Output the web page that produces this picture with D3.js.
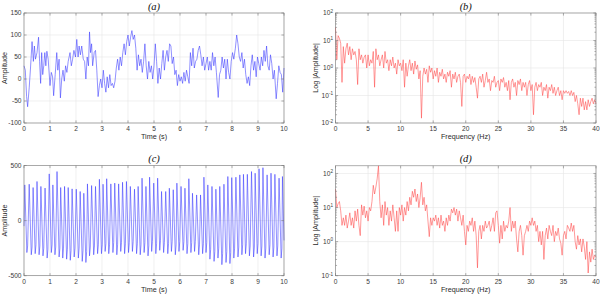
<!DOCTYPE html>
<html lang="en">
<head>
<meta charset="UTF-8" />
<title>Signals and spectra</title>
<script src="https://d3js.org/d3.v7.min.js"></script>
<style>
  body { margin: 0; background: #fff; }
  svg { display: block; font-family: "Liberation Sans", Arial, sans-serif; }
  .tick-label { font-size: 6.6px; fill: #3a3a3a; }
  .axis-label { font-size: 7.2px; fill: #2a2a2a; }
  .panel-title { font-family: "Liberation Serif", "Times New Roman", serif; font-style: italic; font-size: 10.5px; fill: #111; }
</style>
</head>
<body>
<script>
// ---- data ----

// (a) time signal: [time s, amplitude]
const signalA = [
  [0.00, 30], [0.05, 20], [0.10, -40], [0.14, -63], [0.20, -20], [0.25, 25], [0.31, 85], [0.36, 40], [0.40, 75], [0.44, 45],
  [0.50, 60], [0.56, 95], [0.60, 40], [0.64, -10], [0.68, 60], [0.72, 10], [0.76, 30], [0.80, 60], [0.84, 30], [0.88, 63],
  [0.93, 45], [1.00, -15], [1.05, 15], [1.10, 5], [1.14, -38], [1.20, 10], [1.26, 60], [1.30, 20], [1.35, 45], [1.40, -43],
  [1.45, 0], [1.50, 20], [1.55, -5], [1.60, 30], [1.65, 15], [1.70, 40], [1.77, 60], [1.82, 30], [1.87, 45], [1.92, 65],
  [1.98, 50], [2.03, 90], [2.08, 50], [2.12, 75], [2.17, 55], [2.22, 75], [2.28, 45], [2.33, 40], [2.38, 0], [2.43, 50],
  [2.48, 30], [2.52, 107], [2.56, 60], [2.60, 80], [2.64, 30], [2.70, 60], [2.75, 65], [2.80, 20], [2.85, -40], [2.90, -15],
  [2.95, 0], [3.00, -20], [3.05, 20], [3.10, -10], [3.15, -30], [3.20, 5], [3.25, -20], [3.30, 10], [3.35, -15], [3.40, -10],
  [3.45, -20], [3.50, -5], [3.55, 25], [3.60, 45], [3.65, 20], [3.70, 50], [3.75, 30], [3.80, 60], [3.85, 80], [3.90, 55],
  [3.95, 85], [4.00, 100], [4.05, 75], [4.10, 95], [4.15, 110], [4.20, 90], [4.25, 100], [4.30, 70], [4.35, 20], [4.40, 55],
  [4.45, 30], [4.50, 45], [4.55, 15], [4.60, 40], [4.65, 80], [4.70, 30], [4.75, 0], [4.80, 40], [4.85, 15], [4.90, 30],
  [4.95, 0], [5.00, 30], [5.05, 80], [5.10, 40], [5.15, -10], [5.20, 25], [5.25, 0], [5.30, 35], [5.35, 65], [5.40, 20],
  [5.45, 50], [5.50, 65], [5.55, 40], [5.60, 80], [5.65, 75], [5.70, 35], [5.75, 50], [5.80, 10], [5.85, 20], [5.90, -15],
  [5.95, 10], [6.00, -5], [6.05, 5], [6.10, -10], [6.15, 15], [6.20, -5], [6.25, 20], [6.30, 5], [6.35, -10], [6.40, 60],
  [6.45, 30], [6.50, 70], [6.55, 25], [6.60, 40], [6.65, 45], [6.70, 65], [6.75, 75], [6.80, 55], [6.85, 30], [6.90, 50],
  [6.95, 20], [7.00, 35], [7.05, 50], [7.10, 20], [7.15, 40], [7.20, 20], [7.25, 60], [7.30, 30], [7.35, 50], [7.40, 15],
  [7.47, -42], [7.52, 10], [7.57, 20], [7.62, 50], [7.67, 25], [7.72, 45], [7.77, 0], [7.82, 45], [7.87, 15], [7.92, 0],
  [7.97, 40], [8.02, 60], [8.07, 45], [8.13, 70], [8.18, 100], [8.23, 80], [8.28, 50], [8.33, 40], [8.38, 60], [8.43, 25],
  [8.48, 45], [8.53, 10], [8.58, -10], [8.63, 5], [8.68, -15], [8.73, 30], [8.78, 55], [8.83, 20], [8.88, 40], [8.93, 5],
  [8.98, 50], [9.03, 35], [9.08, 20], [9.13, 50], [9.18, 30], [9.23, 65], [9.28, 40], [9.33, 75], [9.38, 30], [9.43, 20],
  [9.48, 55], [9.53, 35], [9.58, 0], [9.63, 20], [9.70, -45], [9.75, -10], [9.80, 30], [9.85, 15], [9.90, 10], [9.95, -30],
  [10.00, 25]
];

// (b) spectrum of (a), one value every 0.2 Hz from 0 to 40 Hz
const freqStep = 0.2;
const spectrumB = [
  30, 2, 15, 12, 8, 0.3, 6, 1.5, 5, 8,
  3, 6, 2, 5, 3, 4, 2, 0.25, 5, 2,
  3, 1.5, 2.5, 3, 1, 3, 1.2, 2, 1.5, 4,
  0.2, 5, 2, 3, 1.2, 2, 3, 1, 4, 1.5,
  2, 0.8, 2, 1.2, 2.5, 1, 1.5, 0.6, 2, 1.2,
  1.5, 0.8, 2, 0.2, 1.5, 0.5, 1.2, 2, 0.8, 1.5,
  0.6, 1.8, 0.9, 1.3, 0.4, 0.8, 0.015, 0.5, 1, 0.6,
  0.9, 0.3, 1.2, 0.7, 1, 0.4, 0.8, 0.5, 1, 0.3,
  0.7, 0.5, 0.9, 0.4, 0.6, 0.3, 0.7, 0.5, 0.8, 0.2,
  0.6, 0.4, 0.7, 0.3, 0.5, 0.6, 0.3, 0.04, 0.5, 0.6,
  0.3, 0.5, 0.4, 0.6, 0.25, 0.5, 0.3, 0.45, 0.2, 0.08,
  0.4, 0.5, 0.3, 0.6, 0.2, 0.35, 0.7, 0.3, 0.4, 0.15,
  0.35, 0.3, 0.5, 0.2, 0.3, 0.35, 0.15, 0.4, 0.3, 0.45,
  0.2, 0.3, 0.15, 0.35, 0.07, 0.3, 0.4, 0.2, 0.3, 0.1,
  0.35, 0.25, 0.4, 0.15, 0.3, 0.2, 0.3, 0.1, 0.25, 0.35,
  0.15, 0.25, 0.02, 0.2, 0.3, 0.15, 0.25, 0.2, 0.3, 0.1,
  0.2, 0.15, 0.25, 0.08, 0.2, 0.15, 0.25, 0.12, 0.2, 0.1,
  0.15, 0.2, 0.1, 0.15, 0.07, 0.15, 0.12, 0.15, 0.12, 0.14,
  0.1, 0.15, 0.1, 0.13, 0.06, 0.1, 0.05, 0.02, 0.08, 0.04,
  0.08, 0.03, 0.06, 0.03, 0.07, 0.04, 0.06, 0.08, 0.05, 0.07,
  0.05
];

// (c) oscillating signal: peaks, troughs and shoulders of each cycle
const peakTimeC = [
  0.03, 0.20, 0.35, 0.50, 0.65, 0.81, 0.97, 1.11, 1.27, 1.41,
  1.56, 1.70, 1.85, 2.01, 2.16, 2.30, 2.44, 2.60, 2.75, 2.90,
  3.04, 3.18, 3.34, 3.49, 3.64, 3.79, 3.94, 4.09, 4.25, 4.39,
  4.54, 4.69, 4.83, 4.99, 5.14, 5.29, 5.45, 5.59, 5.74, 5.88,
  6.04, 6.19, 6.34, 6.48, 6.64, 6.79, 6.92, 7.07, 7.23, 7.38,
  7.53, 7.69, 7.84, 7.99, 8.15, 8.30, 8.44, 8.59, 8.75, 8.89,
  9.04, 9.19, 9.35, 9.50, 9.65, 9.81, 9.94
];
const peakAmpC = [
  324, 330, 300, 355, 310, 295, 424, 324, 445, 300,
  310, 300, 288, 285, 264, 248, 333, 318, 310, 375,
  330, 380, 333, 340, 333, 348, 355, 310, 285, 310,
  385, 310, 394, 340, 385, 264, 264, 294, 280, 340,
  310, 294, 380, 248, 233, 233, 394, 324, 310, 285,
  310, 330, 400, 390, 394, 415, 420, 420, 445, 430,
  470, 480, 415, 430, 420, 385, 400
];
const troughTimeC = [
  0.11, 0.28, 0.43, 0.58, 0.73, 0.89, 1.05, 1.19, 1.35, 1.49,
  1.64, 1.78, 1.93, 2.09, 2.24, 2.38, 2.52, 2.68, 2.83, 2.98,
  3.12, 3.26, 3.42, 3.57, 3.72, 3.87, 4.02, 4.17, 4.33, 4.47,
  4.62, 4.77, 4.91, 5.07, 5.22, 5.37, 5.53, 5.67, 5.82, 5.96,
  6.12, 6.27, 6.42, 6.56, 6.72, 6.87, 7.00, 7.15, 7.31, 7.46,
  7.61, 7.77, 7.92, 8.07, 8.23, 8.38, 8.52, 8.67, 8.83, 8.97,
  9.12, 9.27, 9.43, 9.58, 9.73, 9.89, 10.00
];
const troughAmpC = [
  -290, -310, -300, -310, -320, -340, -290, -310, -330, -340,
  -350, -360, -330, -340, -370, -380, -320, -310, -300, -300,
  -280, -300, -290, -310, -280, -300, -290, -280, -300, -310,
  -290, -320, -280, -300, -270, -290, -300, -280, -310, -280,
  -270, -300, -290, -280, -310, -300, -290, -350, -370, -340,
  -400, -380, -390, -340, -330, -310, -300, -320, -330, -300,
  -320, -340, -310, -330, -320, -340, -180
];
const shoulderTimeC = [
  0.14, 0.31, 0.46, 0.61, 0.76, 0.92, 1.08, 1.22, 1.38, 1.52,
  1.67, 1.81, 1.96, 2.12, 2.27, 2.41, 2.55, 2.71, 2.86, 3.01,
  3.15, 3.29, 3.45, 3.60, 3.75, 3.90, 4.05, 4.20, 4.36, 4.50,
  4.65, 4.80, 4.94, 5.10, 5.25, 5.40, 5.56, 5.70, 5.85, 5.99,
  6.15, 6.30, 6.45, 6.59, 6.75, 6.90, 7.03, 7.18, 7.34, 7.49,
  7.64, 7.80, 7.95, 8.10, 8.26, 8.41, 8.55, 8.70, 8.86, 9.00,
  9.15, 9.30, 9.46, 9.61, 9.76, 9.92, 0.00
];
const shoulderAmpC = [
  -230, -240, -220, -230, -250, -260, -220, -240, -250, -250,
  -260, -270, -250, -250, -270, -280, -240, -230, -220, -220,
  -210, -220, -200, -220, -200, -210, -200, -190, -210, -220,
  -200, -230, -190, -210, -180, -200, -210, -190, -220, -190,
  -190, -210, -200, -190, -220, -210, -200, -260, -280, -250,
  -300, -280, -290, -250, -240, -220, -210, -230, -240, -210,
  -230, -250, -220, -240, -230, -250, -50
];

// (d) spectrum of (c), one value every 0.2 Hz from 0 to 40 Hz
const spectrumD = [
  35, 10, 13, 15, 8, 3, 5, 3, 6, 2.5,
  4, 7, 3, 5, 2.5, 8, 4, 9, 3, 1.5,
  12, 6, 11, 5, 8, 4, 10, 8, 15, 45,
  25, 40, 70, 168, 15, 5, 12, 3, 15, 6,
  10, 3, 8, 4, 12, 5, 2, 8, 2, 10,
  6, 12, 4, 10, 6, 15, 8, 20, 12, 30,
  20, 35, 15, 25, 10, 20, 55, 12, 20, 8,
  12, 4, 1.4, 5, 3, 5, 4, 6, 3, 5,
  2.5, 6, 3, 4, 2, 5, 3, 6, 4, 9,
  7, 10, 6, 9, 4, 8, 5, 3, 6, 2,
  0.8, 3, 2, 4, 3, 5, 2, 4, 1.5, 0.17,
  2, 3, 1.2, 3, 2, 4, 2.5, 3, 4, 2,
  3, 5, 2, 7, 8, 3, 0.9, 3, 1.2, 4,
  2, 3, 2.5, 4, 10, 2, 4, 2.5, 4, 1.2,
  0.5, 2, 3, 1.5, 0.4, 1.5, 2, 3, 2, 4,
  3, 5, 3, 4, 2, 3, 1, 2, 0.8, 2,
  0.3, 1.5, 2.5, 1.2, 3, 2, 1.5, 3, 1, 2,
  1.5, 2.5, 1.2, 0.9, 0.4, 1.5, 2, 1.2, 3, 2.5,
  2, 3.5, 2, 3, 1, 0.6, 1.5, 0.8, 1.2, 0.5,
  1.2, 0.7, 0.3, 1, 0.12, 0.5, 0.25, 0.6, 0.3, 0.4,
  0.35
];

const timeTicks = [0, 1, 2, 3, 4, 5, 6, 7, 8, 9, 10];
const freqTicks = [0, 5, 10, 15, 20, 25, 30, 35, 40];
const ampTicksA = [-100, -50, 0, 50, 100, 150];
const ampTicksC = [-500, 0, 500];

// ---- drawing ----
const svg = d3.select("body").append("svg").attr("width", 600).attr("height", 295);

// cycle points of (c) merged in time order
const signalC = [[0, -50]];
peakTimeC.forEach((t, i) => {
  signalC.push([t, peakAmpC[i]]);
  signalC.push([troughTimeC[i], troughAmpC[i]]);
  if (shoulderTimeC[i] > troughTimeC[i]) signalC.push([shoulderTimeC[i], shoulderAmpC[i]]);
});

const specB = spectrumB.map((v, i) => [i * freqStep, v]);
const specD = spectrumD.map((v, i) => [i * freqStep, v]);

function drawPanel(p) {
  const g = svg.append("g");
  const x = d3.scaleLinear().domain(p.xDomain).range([p.left, p.right]);
  const y = (p.log ? d3.scaleLog() : d3.scaleLinear()).domain(p.yDomain).range([p.bottom, p.top]);
  const tick = 2.6;
  const axisColor = "#7a7a7a";

  // grid
  g.selectAll(".gx").data(p.xTicks).join("line")
    .attr("x1", d => x(d)).attr("x2", d => x(d))
    .attr("y1", p.top).attr("y2", p.bottom)
    .attr("stroke", "#e6e6e6").attr("stroke-width", 0.6);
  g.selectAll(".gy").data(p.yTicks).join("line")
    .attr("x1", p.left).attr("x2", p.right)
    .attr("y1", d => y(d)).attr("y2", d => y(d))
    .attr("stroke", "#e6e6e6").attr("stroke-width", 0.6);

  // data line
  g.append("path")
    .datum(p.points)
    .attr("fill", "none")
    .attr("stroke", p.color)
    .attr("stroke-width", 0.55)
    .attr("stroke-linejoin", "round")
    .attr("d", d3.line().x(d => x(d[0])).y(d => y(Math.max(d[1], p.yDomain[0]))));

  // box
  g.append("rect")
    .attr("x", p.left).attr("y", p.top)
    .attr("width", p.right - p.left).attr("height", p.bottom - p.top)
    .attr("fill", "none").attr("stroke", axisColor).attr("stroke-width", 0.6);

  // tick marks inside, bottom/top and left/right
  p.xTicks.forEach(d => {
    g.append("line").attr("x1", x(d)).attr("x2", x(d)).attr("y1", p.bottom).attr("y2", p.bottom - tick)
      .attr("stroke", axisColor).attr("stroke-width", 0.6);
    g.append("line").attr("x1", x(d)).attr("x2", x(d)).attr("y1", p.top).attr("y2", p.top + tick)
      .attr("stroke", axisColor).attr("stroke-width", 0.6);
  });
  const yMarks = p.log ? p.yTicks.concat(p.minorTicks) : p.yTicks;
  yMarks.forEach(d => {
    const len = p.yTicks.includes(d) ? tick : tick * 0.6;
    g.append("line").attr("x1", p.left).attr("x2", p.left + len).attr("y1", y(d)).attr("y2", y(d))
      .attr("stroke", axisColor).attr("stroke-width", 0.6);
    g.append("line").attr("x1", p.right).attr("x2", p.right - len).attr("y1", y(d)).attr("y2", y(d))
      .attr("stroke", axisColor).attr("stroke-width", 0.6);
  });

  // tick labels
  g.selectAll(".xl").data(p.xTicks).join("text")
    .attr("class", "tick-label")
    .attr("x", d => x(d)).attr("y", p.bottom + 7.8)
    .attr("text-anchor", "middle")
    .text(d => d);

  if (p.log) {
    p.yTicks.forEach(d => {
      const t = g.append("text").attr("class", "tick-label")
        .attr("x", p.left - 2.5).attr("y", y(d) + 2.4).attr("text-anchor", "end");
      t.append("tspan").text("10");
      t.append("tspan").attr("dy", -2.6).attr("font-size", "4.6px").text(Math.round(Math.log10(d)));
    });
  } else {
    g.selectAll(".yl").data(p.yTicks).join("text")
      .attr("class", "tick-label")
      .attr("x", p.left - 2.5).attr("y", d => y(d) + 2.3)
      .attr("text-anchor", "end")
      .text(d => d);
  }

  // axis labels and title
  g.append("text").attr("class", "axis-label")
    .attr("x", (p.left + p.right) / 2).attr("y", p.bottom + 16)
    .attr("text-anchor", "middle").text(p.xLabel);
  g.append("text").attr("class", "axis-label")
    .attr("transform", `translate(${p.yLabelX},${(p.top + p.bottom) / 2}) rotate(-90)`)
    .attr("text-anchor", "middle").text(p.yLabel);
  g.append("text").attr("class", "panel-title")
    .attr("x", (p.left + p.right) / 2).attr("y", p.top - 3.5)
    .attr("text-anchor", "middle").text(p.title);
}

function minorLogTicks(lo, hi) {
  const out = [];
  for (let e = Math.floor(Math.log10(lo)); e <= Math.ceil(Math.log10(hi)); e++) {
    for (let k = 2; k <= 9; k++) {
      const v = k * Math.pow(10, e);
      if (v > lo && v < hi) out.push(v);
    }
  }
  return out;
}

drawPanel({
  left: 24, right: 284, top: 13, bottom: 123,
  xDomain: [0, 10], yDomain: [-100, 150],
  xTicks: timeTicks, yTicks: ampTicksA,
  points: signalA, color: "#3636ff",
  xLabel: "Time (s)", yLabel: "Amplitude", yLabelX: 6.5, title: "(a)"
});

drawPanel({
  left: 335.5, right: 596, top: 13, bottom: 123,
  xDomain: [0, 40], yDomain: [0.01, 100], log: true,
  xTicks: freqTicks, yTicks: [0.01, 0.1, 1, 10, 100], minorTicks: minorLogTicks(0.01, 100),
  points: specB, color: "#ff4545",
  xLabel: "Frequency (Hz)", yLabel: "Log |Amplitude|", yLabelX: 317.5, title: "(b)"
});

drawPanel({
  left: 24, right: 284, top: 165.5, bottom: 275.7,
  xDomain: [0, 10], yDomain: [-500, 500],
  xTicks: timeTicks, yTicks: ampTicksC,
  points: signalC, color: "#3636ff",
  xLabel: "Time (s)", yLabel: "Amplitude", yLabelX: 6.5, title: "(c)"
});

drawPanel({
  left: 335.5, right: 596, top: 165.8, bottom: 275.7,
  xDomain: [0, 40], yDomain: [0.1, 168], log: true,
  xTicks: freqTicks, yTicks: [0.1, 1, 10, 100], minorTicks: minorLogTicks(0.1, 168),
  points: specD, color: "#ff4545",
  xLabel: "Frequency (Hz)", yLabel: "Log |Amplitude|", yLabelX: 317.5, title: "(d)"
});
</script>
</body>
</html>
